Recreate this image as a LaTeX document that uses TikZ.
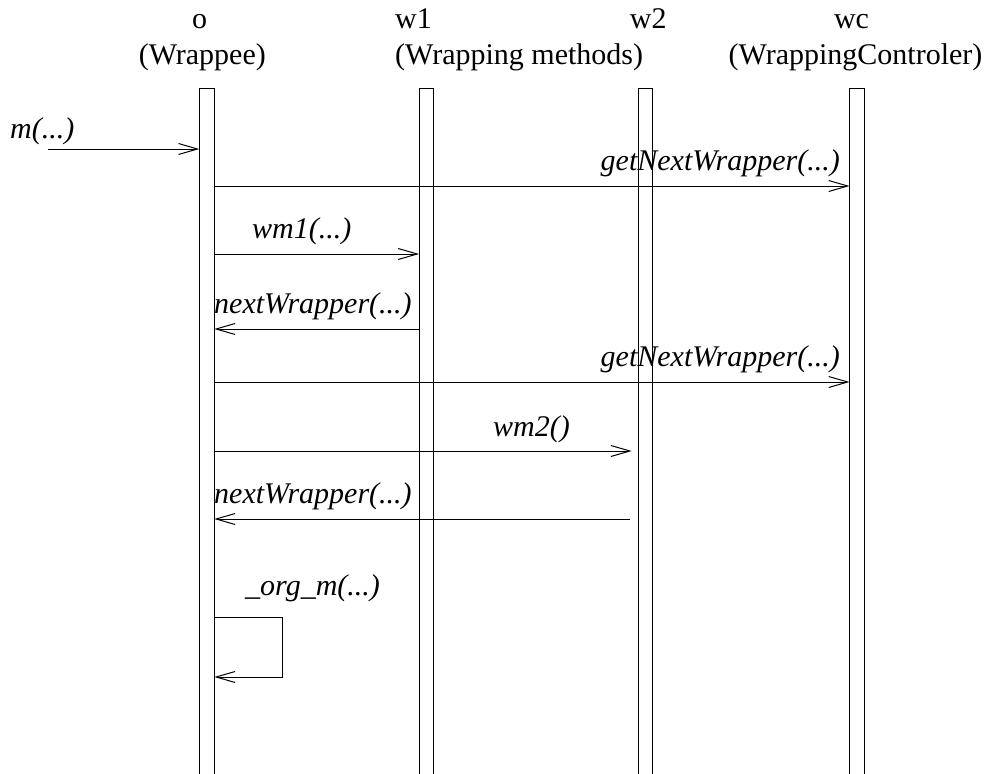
\documentclass[tikz,border=0pt]{standalone}
\usepackage{fontspec}
\setmainfont{Liberation Serif}
\usetikzlibrary{arrows.meta}
\begin{document}
\begin{tikzpicture}[x=1pt,y=-1pt,
  life/.style={line width=1pt},
  msg/.style={line width=1pt,-{Straight Barb[length=19pt,width=11pt,line width=1pt]}},
  lbl/.style={font=\fontsize{30}{36}\selectfont\itshape, inner sep=0pt},
  hdr/.style={font=\fontsize{30}{36}\selectfont, inner sep=0pt}]
\useasboundingbox (0,0) rectangle (986,774);

% headers
\node[hdr, anchor=base] (ho) at (199.5,28) {o};
\node[hdr, anchor=base] (hoo) at (202.3,64) {(Wrappee)};
\node[hdr, anchor=base west] (hw1) at (395,28) {w1};
\node[hdr, anchor=base east] (hw2) at (666.7,28) {w2};
\node[hdr, anchor=base west] (hwm) at (395,64) {(Wrapping methods)};
\node[hdr, anchor=base] (hwc) at (851.5,28) {wc};
\node[hdr, anchor=base] (hwcc) at (855.5,64) {(WrappingControler)};

% lifelines
\draw[life] (199.3,774) -- (199.3,88) -- (214.3,88) -- (214.3,774);
\draw[life] (419,774) -- (419,88) -- (433.5,88) -- (433.5,774);
\draw[life] (638,774) -- (638,88) -- (652.3,88) -- (652.3,774);
\draw[life] (849.5,774) -- (849.5,88) -- (864.3,88) -- (864.3,774);

% coordinates
\coordinate (m0) at (48,149);   \coordinate (m1) at (199.3,149);
\coordinate (g0) at (214.3,186); \coordinate (g1) at (849.5,186);
\coordinate (a0) at (214.3,254); \coordinate (a1) at (419,254);
\coordinate (n0) at (419,329);   \coordinate (n1) at (214.3,329);
\coordinate (h0) at (214.3,382); \coordinate (h1) at (849.5,382);
\coordinate (b0) at (214.3,451); \coordinate (b1) at (631.7,451);
\coordinate (k0) at (630,519);   \coordinate (k1) at (214.3,519);
\coordinate (s0) at (214.3,617); \coordinate (s1) at (282,617);
\coordinate (s2) at (282,677);   \coordinate (s3) at (214.3,677);

% messages
\draw[msg] (m0) -- (m1);
\draw[msg] (g0) -- (g1);
\draw[msg] (a0) -- (a1);
\draw[msg] (n0) -- (n1);
\draw[msg] (h0) -- (h1);
\draw[msg] (b0) -- (b1);
\draw[msg] (k0) -- (k1);
\draw[msg] (s0) -- (s1) -- (s2) -- (s3);

% labels
\node[lbl, anchor=base west] (lm) at (10,138) {m(...)};
\node[lbl, anchor=base east] (lg) at (840,170) {getNextWrapper(...)};
\node[lbl, anchor=base west] (la) at (252,238) {wm1(...)};
\node[lbl, anchor=base west] (ln) at (214,313) {nextWrapper(...)};
\node[lbl, anchor=base east] (lh) at (840,366) {getNextWrapper(...)};
\node[lbl, anchor=base west] (lb) at (493,436) {wm2()};
\node[lbl, anchor=base west] (lk) at (214,503) {nextWrapper(...)};
\node[lbl, anchor=base west] (ls) at (245,595) {\_org\_m(...)};
\end{tikzpicture}
\end{document}
